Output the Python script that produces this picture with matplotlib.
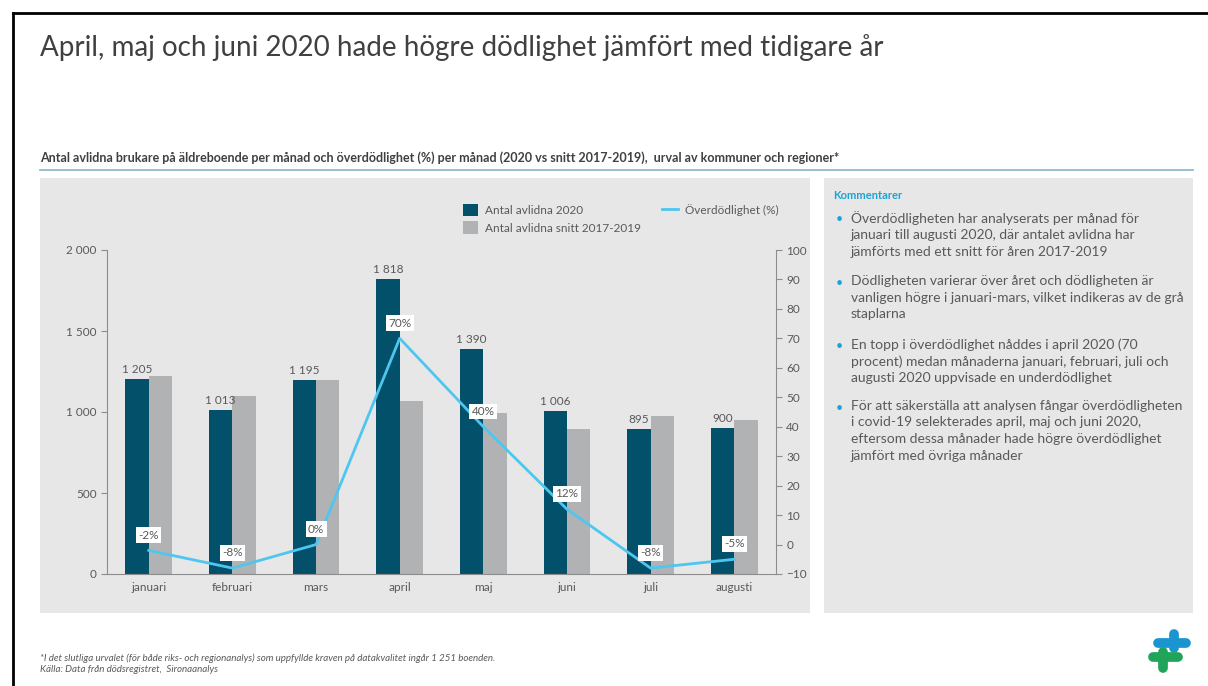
import matplotlib.pyplot as plt
from matplotlib.patches import Rectangle
from matplotlib.lines import Line2D
import numpy as np

plt.rcParams['font.family'] = ['Lato', 'DejaVu Sans']

# data
months = ['januari', 'februari', 'mars', 'april', 'maj', 'juni', 'juli', 'augusti']
deaths_2020 = [1205, 1013, 1195, 1818, 1390, 1006, 895, 900]
deaths_avg = [1222, 1099, 1198, 1068, 994, 895, 978, 950]
excess_pct = [-2, -8, 0, 70, 40, 12, -8, -5]

comments = [
    "Överdödligheten har analyserats per månad för\njanuari till augusti 2020, där antalet avlidna har\njämförts med ett snitt för åren 2017-2019",
    "Dödligheten varierar över året och dödligheten är\nvanligen högre i januari-mars, vilket indikeras av de grå\nstaplarna",
    "En topp i överdödlighet nåddes i april 2020 (70\nprocent) medan månaderna januari, februari, juli och\naugusti 2020 uppvisade en underdödlighet",
    "För att säkerställa att analysen fångar överdödligheten\ni covid-19 selekterades april, maj och juni 2020,\neftersom dessa månader hade högre överdödlighet\njämfört med övriga månader",
]

W, H = 1208, 686
dark = '#03506a'
grey = '#b1b2b4'
cyan = '#4ec6f0'
txt = '#595959'

fig = plt.figure(figsize=(W / 100, H / 100), dpi=100)


def fx(x):
    return x / W


def fy(y):
    return 1 - y / H


# frame lines of the slide
fig.add_artist(Line2D([fx(13), 1], [fy(13), fy(13)], color='black', lw=2))
fig.add_artist(Line2D([fx(13), fx(13)], [fy(13), 0], color='black', lw=2))

fig.text(fx(40), fy(48), "April, maj och juni 2020 hade högre dödlighet jämfört med tidigare år",
         fontsize=20, color='#404040', va='center', ha='left')
fig.text(fx(40), fy(158), "Antal avlidna brukare på äldreboende per månad och överdödlighet (%) per månad (2020 vs snitt 2017-2019),  urval av kommuner och regioner*",
         fontsize=9, fontweight='bold', color='#404040', va='center', ha='left')
fig.add_artist(Line2D([fx(40), fx(1193)], [fy(170), fy(170)], color='#8dbccc', lw=1.3))

# gray panels
fig.add_artist(Rectangle((fx(40), fy(613)), fx(770), 613 / H - 178 / H, transform=fig.transFigure,
                         facecolor='#e7e7e7', edgecolor='none', zorder=0))
fig.add_artist(Rectangle((fx(824), fy(613)), fx(369), 613 / H - 178 / H, transform=fig.transFigure,
                         facecolor='#e7e7e7', edgecolor='none', zorder=0))

# chart
ax = fig.add_axes([fx(107), fy(574), fx(776 - 107), (574 - 250) / H])
ax.set_facecolor('none')
x = np.arange(len(months))
bw = 0.28
b1 = ax.bar(x - bw / 2, deaths_2020, bw, color=dark, zorder=2, label='Antal avlidna 2020')
b2 = ax.bar(x + bw / 2, deaths_avg, bw, color=grey, zorder=2, label='Antal avlidna snitt 2017-2019')
for xi, v in zip(x, deaths_2020):
    ax.text(xi - bw / 2, v + 25, f"{v:,}".replace(",", " "), ha='center', va='bottom',
            fontsize=8.5, color=txt)
ax.set_xlim(-0.5, len(months) - 0.5)
ax.set_ylim(0, 2000)
ax.set_yticks([0, 500, 1000, 1500, 2000])
ax.set_yticklabels([f"{v:,}".replace(",", " ") for v in [0, 500, 1000, 1500, 2000]])
ax.set_xticks(x)
ax.set_xticklabels(months)
ax.tick_params(axis='x', length=0, labelsize=8.5, labelcolor=txt, pad=6)
ax.tick_params(axis='y', length=4, color='#8c8c8c', labelsize=8.5, labelcolor=txt)
for s in ['top', 'right']:
    ax.spines[s].set_visible(False)
for s in ['left', 'bottom']:
    ax.spines[s].set_color('#8c8c8c')

ax2 = ax.twinx()
ax2.set_ylim(-10, 100)
ax2.set_yticks(range(-10, 101, 10))
line, = ax2.plot(x, excess_pct, color=cyan, lw=2, zorder=3, label='Överdödlighet (%)')
for xi, v in zip(x, excess_pct):
    ax2.annotate(f"{v}%", (xi, v), xytext=(0, 11), textcoords='offset points', ha='center',
                 va='center', fontsize=8.5, color=txt,
                 bbox=dict(boxstyle='square,pad=0.2', fc='white', ec='none'))
ax2.tick_params(axis='y', length=4, color='#8c8c8c', labelsize=8.5, labelcolor=txt)
for s in ['top', 'left', 'bottom']:
    ax2.spines[s].set_visible(False)
ax2.spines['right'].set_color('#8c8c8c')

lh = Line2D([], [], color=cyan, lw=2)
fig.legend([b1, b2, lh], ['Antal avlidna 2020', 'Antal avlidna snitt 2017-2019', 'Överdödlighet (%)'],
           ncol=2, loc='upper left', bbox_to_anchor=(fx(452), fy(193)), frameon=False,
           fontsize=8.5, labelcolor=txt, handlelength=1.3, handleheight=1.3,
           columnspacing=1.8, handletextpad=0.6, labelspacing=0.4)

# comments panel
fig.text(fx(833), fy(195), "Kommentarer", fontsize=8, fontweight='bold', color='#1ba3d6',
         va='center')
ys = [219, 283, 346, 408]
for y0, c in zip(ys, comments):
    fig.text(fx(836), fy(y0), "•", fontsize=9, color='#1ba3d6', va='center')
    fig.text(fx(851), fy(y0 - 8), c, fontsize=10, color=txt, va='top', linespacing=1.45)

# footnote
fig.text(fx(40), fy(658), "*I det slutliga urvalet (för både riks- och regionanalys) som uppfyllde kraven på datakvalitet ingår 1 251 boenden.",
         fontsize=7, style='italic', color=txt, va='center')
fig.text(fx(40), fy(670), "Källa: Data från dödsregistret,  Sironaanalys", fontsize=7, style='italic',
         color=txt, va='center')

# logo
fig.add_artist(Line2D([fx(1158), fx(1186)], [fy(643), fy(643)], color='#1b95cf', lw=7, solid_capstyle='round'))
fig.add_artist(Line2D([fx(1174), fx(1174)], [fy(634), fy(648)], color='#1b95cf', lw=7, solid_capstyle='round'))
fig.add_artist(Line2D([fx(1153), fx(1178)], [fy(657), fy(657)], color='#1fa45a', lw=7, solid_capstyle='round'))
fig.add_artist(Line2D([fx(1163), fx(1163)], [fy(652), fy(668)], color='#1fa45a', lw=7, solid_capstyle='round'))

fig.savefig('out.png', dpi=100)
